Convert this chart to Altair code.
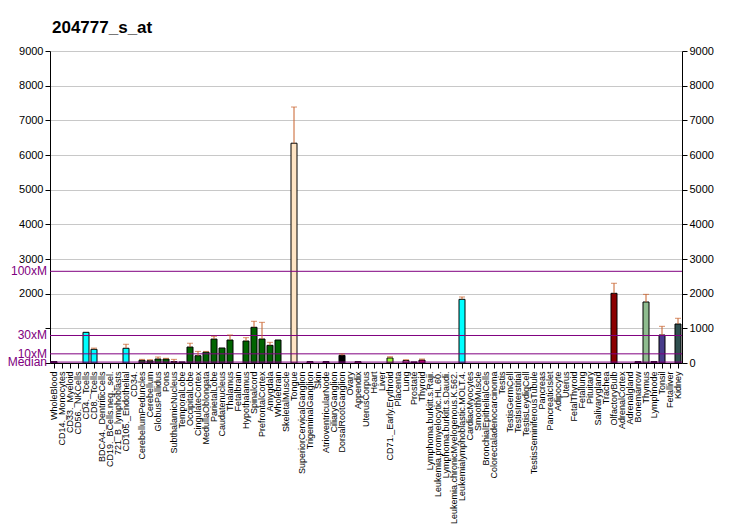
import altair as alt
import pandas as pd
import numpy as np

names = [
    "WholeBlood", "CD14._Monocytes", "CD33._Myeloid", "CD56._NKCells", "CD4._Tcells",
    "CD8._Tcells", "BDCA4._DentriticCells", "CD19._BCells.neg._sel.", "721_B_lymphoblasts",
    "CD105._Endothelial", "CD34.", "CerebellumPeduncles", "Cerebellum", "GlobusPallidus",
    "Pons", "SubthalamicNucleus", "TemporalLobe", "OccipitalLobe", "CingulateCortex",
    "MedullaOblongata", "ParietalLobe", "Caudatenucleus", "Thalamus", "Fetalbrain",
    "Hypothalamus", "Spinalcord", "PrefrontalCortex", "Amygdala", "Wholebrain",
    "SkeletalMuscle", "Tongue", "SuperiorCervicalGanglion", "TrigeminalGanglion", "Skin",
    "AtrioventricularNode", "CiliaryGanglion", "DorsalRootGanglion", "Ovary", "Appendix",
    "UterusCorpus", "Heart", "Liver", "CD71._Early.Erythroid", "Placenta", "Lung",
    "Prostate", "Thyroid", "Lymphoma.burkitt.s.Raji.", "Leukemia.promyelocytic.HL.60.",
    "Lymphoma.burkitt.s.Daudi.", "Leukemia.chronicMyelogenous.K.562.",
    "Leukemialymphoblastic.MOLT.4.", "CardiacMyocytes", "SmoothMuscle",
    "BronchialEpithelialCells", "Colorectaladenocarcinoma", "Testis", "TestisGermCell",
    "TestisInterstitial", "TestisLeydigCell", "TestisSeminiferousTubule", "Pancreas",
    "PancreaticIslet", "Adipocyte", "Uterus", "FetalThyroid", "Fetallung", "Pituitary",
    "Salivarygland", "Trachea", "OlfactoryBulb", "AdrenalCortex", "Adrenalgland",
    "Bonemarrow", "Thymus", "Lymphnode", "Tonsil", "Fetalliver", "Kidney",
]

values = [
    40, 0, 0, 0, 885,
    395, 0, 0, 0,
    425, 0, 78, 65, 115,
    115, 40, 30, 460, 210,
    315, 690, 433, 663, 0,
    635, 1030, 692, 510, 663,
    0, 6340, 0, 40, 0,
    40, 0, 220, 0, 40,
    0, 0, 0, 145, 0, 70,
    30, 85, 0, 0,
    0, 0,
    1837, 0, 0,
    0, 0, 0, 0,
    0, 0, 0, 0,
    0, 0, 0, 0, 0, 0,
    0, 0, 2010, 0, 0,
    40, 1760, 40, 808, 0, 1125,
]

errors = [
    None, None, None, None, None,
    430, None, None, None,
    540, None, 105, 95, 173,
    135, 105, None, 570, 335,
    335, 770, None, 808, None,
    730, 1203, 1173, 597, None,
    None, 7384, None, None, None,
    None, None, 260, None, None,
    None, None, None, 180, None, 95,
    None, 115, None, None,
    None, None,
    1904, None, None,
    None, None, None, None,
    None, None, None, None,
    None, None, None, None, None, None,
    None, None, 2300, None, None,
    None, 1980, None, 1058, None, 1290,
]

colors = (
    ["#4B004B"] + ["#00FFFF"] * 10 + ["#006400"] * 19
    + ["#FFE4C4", "#FFE4C4", "#CC3399", "#CC3399", "#550055", "#000000", "#000000",
       "#CC3366", "#CC3366", "#CC3366", "#CC3366", "#CC3366", "#99FF33", "#CC6699",
       "#CC6699", "#550055", "#CC0066"]
    + ["#00FFFF"] * 5
    + ["#888888"] * 18
    + ["#8B0000", "#8B0000", "#330033", "#330033", "#8FBC8F", "#330033", "#483D8B",
       "#2F4F4F", "#2F4F4F"]
)

ref_labels = ["100xM", "30xM", "10xM", "Median"]
ref_values = [2645, 793.5, 264.5, 26.45]

df = pd.DataFrame({
    "name": names,
    "value": values,
    "err": [np.nan if e is None else e for e in errors],
    "color": colors[:len(names)],
})
refs = pd.DataFrame({"label": ref_labels, "value": ref_values})

FONT = "Liberation Sans"
yscale = alt.Scale(domain=[0, 9000], nice=False, zero=True)
xscale = alt.Scale(domain=names, paddingInner=0.25, paddingOuter=0.125)
xaxis = alt.Axis(labelAngle=-90, labelFontSize=9, labelFont=FONT, labelColor="black",
                 tickSize=5, tickColor="black", domainColor="black", labelPadding=3,
                 labelLimit=300, grid=False, labelOverlap=False)


def xenc():
    return alt.X("name:N", sort=names, title=None, scale=xscale, axis=xaxis)


rules = alt.Chart(refs).mark_rule(color="#800080", strokeWidth=1).encode(
    y=alt.Y("value:Q", scale=yscale,
            axis=alt.Axis(orient="right", values=list(range(0, 9001, 1000)), title=None,
                          format="d",
                          labelFontSize=11, labelFont=FONT, labelColor="black",
                          tickColor="black", domainColor="black", tickSize=5,
                          grid=False, labelPadding=2))
)

reftext = alt.Chart(refs).mark_text(
    align="right", baseline="middle", color="#800080", fontSize=12, font=FONT
).encode(
    x=alt.value(-3),
    y=alt.Y("value:Q", scale=yscale, axis=None),
    text="label:N",
)

bars = alt.Chart(df[df["value"] > 0]).mark_bar(stroke="black", strokeWidth=1).encode(
    x=xenc(),
    y=alt.Y("value:Q", scale=yscale, title=None,
            axis=alt.Axis(values=list(range(0, 9001, 1000)), format="d",
                          labelExpr="datum.value >= 2000 ? datum.label : ''",
                          labelFontSize=11, labelFont=FONT, labelColor="black",
                          tickColor="black", domainColor="black", tickSize=5,
                          grid=True, gridColor="#C8C8C8", labelPadding=2)),
    color=alt.Color("color:N", scale=None),
)

edf = df.dropna(subset=["err"])
errrule = alt.Chart(edf).mark_rule(color="#C8602A", strokeWidth=1).encode(
    x=xenc(),
    y=alt.Y("value:Q", scale=yscale, axis=None),
    y2="err:Q",
)
errcap = alt.Chart(edf).mark_tick(color="#C8602A", thickness=1, size=6).encode(
    x=xenc(),
    y=alt.Y("err:Q", scale=yscale, axis=None),
)

chart = alt.layer(bars, rules, reftext, errrule, errcap).resolve_axis(
    y="independent"
).properties(
    width=632, height=312,
    autosize=alt.AutoSizeParams(type="none"),
    padding={"left": 50, "top": 51, "right": 50, "bottom": 167},
    title=alt.TitleParams("204777_s_at", anchor="start", frame="group", font=FONT,
                          fontSize=17, fontWeight="bold", color="black", offset=8, dx=2),
    background="white",
).configure_view(stroke=None)

chart.save("out.html", embed_options={"renderer": "svg", "actions": False})
